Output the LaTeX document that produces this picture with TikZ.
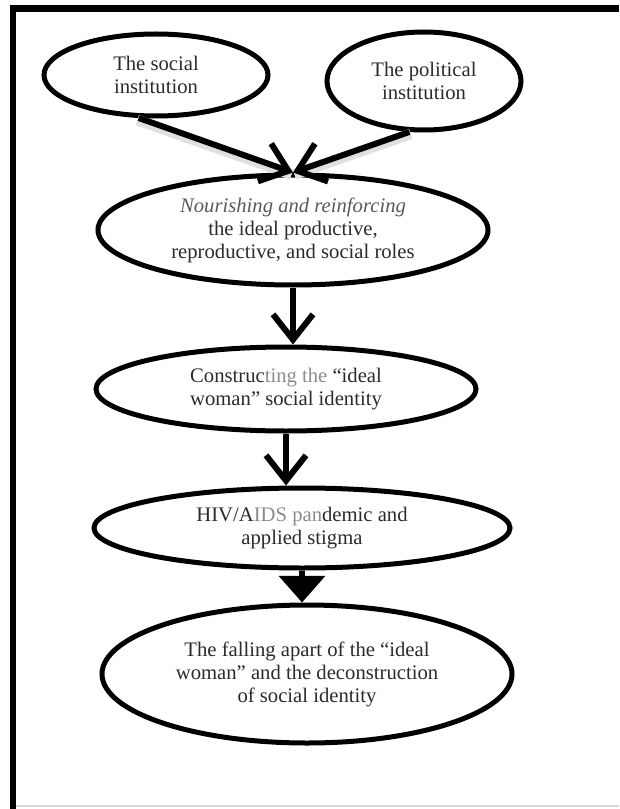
\documentclass[tikz,border=0pt]{standalone}
\usepackage{fontspec}
\setmainfont{Liberation Serif}
\usepackage{tikz}
\usetikzlibrary{arrows.meta, positioning, shapes.geometric, calc}
\definecolor{inkgray}{HTML}{2B2B2B}
\definecolor{midgray}{HTML}{5A5A5A}
\definecolor{fadegray}{HTML}{8C8C8C}

\begin{document}
\begin{tikzpicture}[
  x=0.75pt, y=-0.75pt,
  bubble/.style={ellipse, draw=black, line width=3.75pt, fill=white,
                 inner sep=0pt, align=center, text=inkgray,
                 font=\fontsize{15.5}{17.25}\selectfont},
  flow/.style={-{Straight Barb[length=19pt, width=30pt]}, line width=4.5pt},
  flowend/.style={-{Triangle[length=20pt, width=34pt]}, line width=4.5pt},
  blur/.style={line width=8pt, color=black!12}
]
  \useasboundingbox (0,0) rectangle (619,809);

  % frame
  \draw[line width=5pt] (13,809) -- (13,8.5) -- (619,8.5);
  \draw[black!15, line width=1.5pt] (16,806) -- (619,806);

  \node[bubble, minimum width=168pt, minimum height=61.5pt] (soc) at (156,75)
    {The social\\institution};
  \node[bubble, minimum width=145.5pt, minimum height=73.5pt] (pol) at (424,81)
    {The political\\institution};
  \node[bubble, minimum width=292.5pt, minimum height=82.5pt] (nourish) at (293,230)
    {{\itshape\color{midgray}Nourishing and reinforcing}\\the ideal productive,\\reproductive, and social roles};
  \node[bubble, minimum width=285pt, minimum height=63pt] (ideal) at (286,389)
    {Construc{\color{fadegray}ting the} ``ideal\\woman'' social identity};
  \node[bubble, minimum width=312pt, minimum height=60pt] (hiv) at (302,528)
    {HIV/A{\color{fadegray}IDS pan}demic and\\applied stigma};
  \node[bubble, minimum width=307.5pt, minimum height=103.5pt] (fall) at (307,674)
    {The falling apart of the ``ideal\\woman'' and the deconstruction\\of social identity};

  % soft shadow under the two upper arrows
  \draw[blur, transform canvas={shift={(-1pt,-1.5pt)}}] (soc.248) -- (nourish.north);
  \draw[blur, transform canvas={shift={(1pt,-1.5pt)}}] (pol.254) -- (nourish.north);

  \draw[flow] (soc.248) -- (nourish.north);
  \draw[flow] (pol.254) -- (nourish.north);
  \draw[flow] (nourish.south) -- (nourish.south |- ideal.north);
  \draw[flow] (ideal.south) -- (ideal.south |- hiv.north);
  \draw[flowend] (hiv.south) -- (hiv.south |- fall.north);
\end{tikzpicture}
\end{document}
